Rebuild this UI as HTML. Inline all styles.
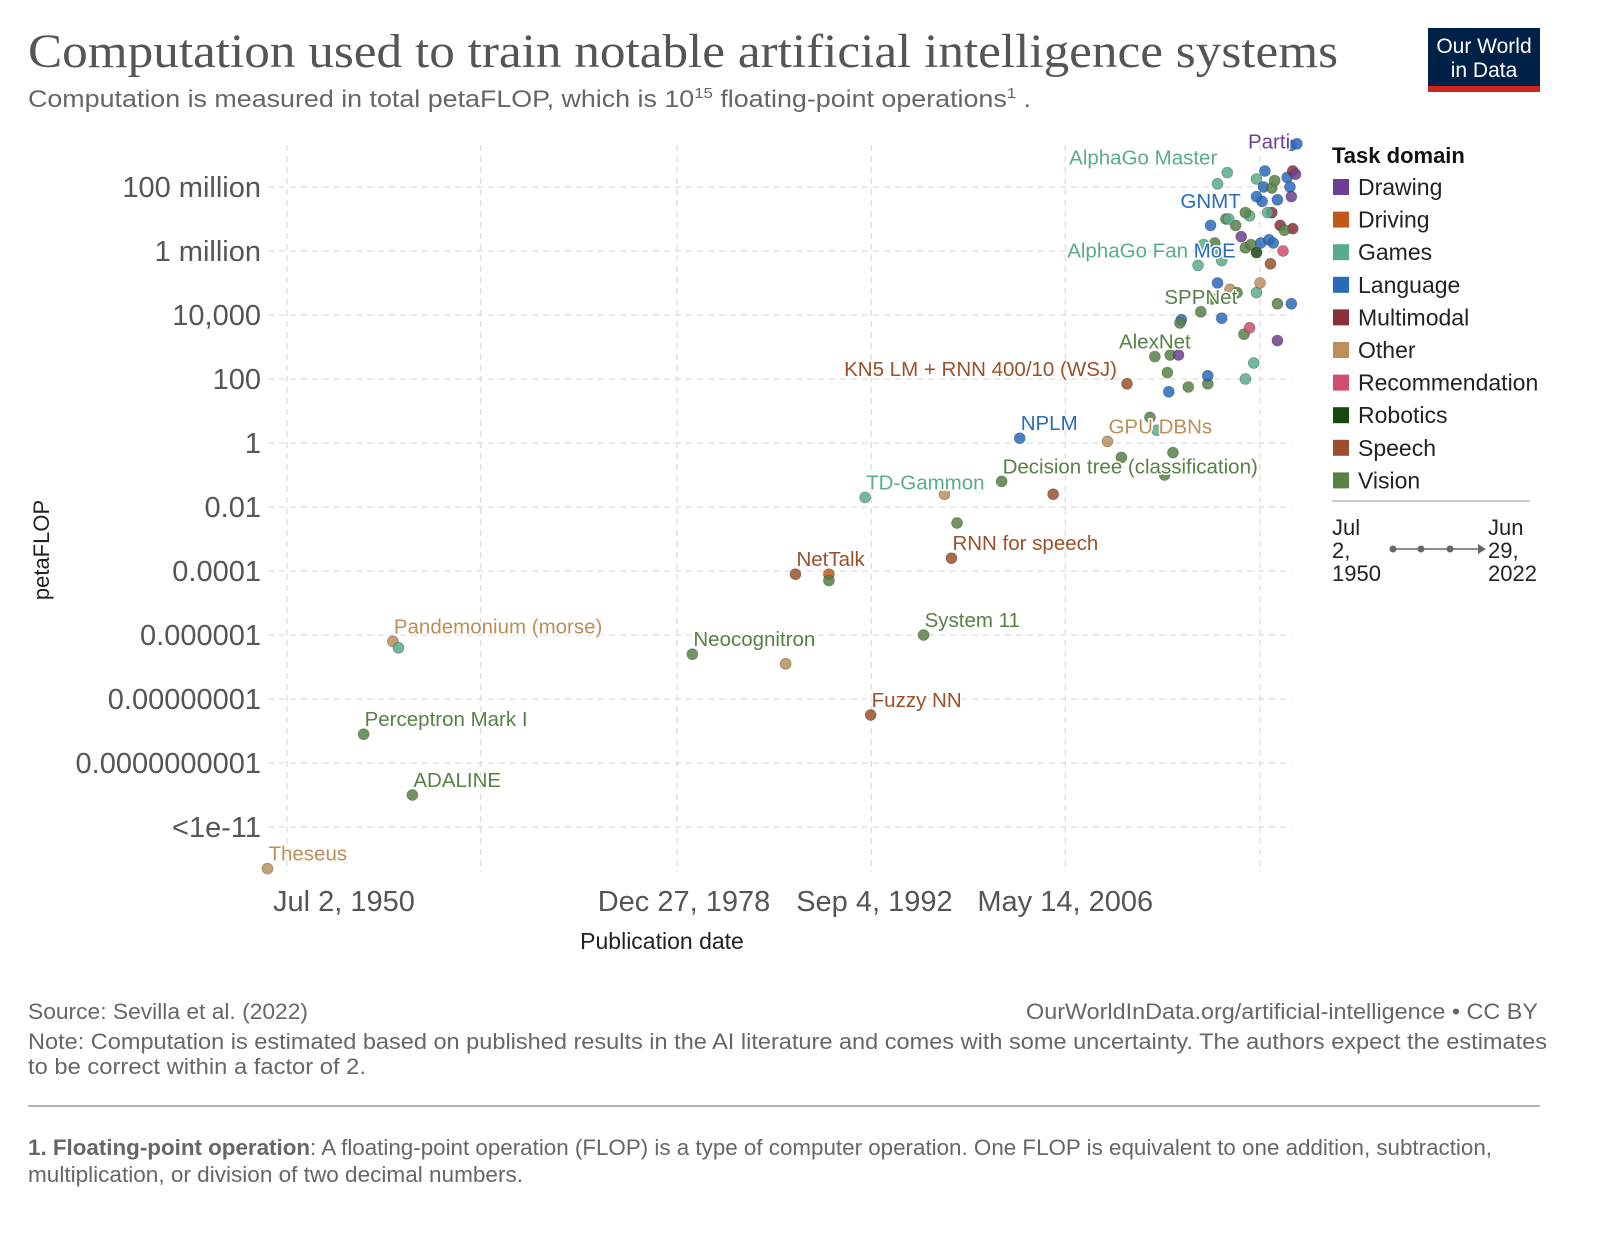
<!DOCTYPE html>
<html><head><meta charset="utf-8">
<style>
html,body{margin:0;padding:0;background:#fff;}
body{width:1600px;height:1229px;overflow:hidden;font-family:"Liberation Sans",sans-serif;}
svg text{font-family:"Liberation Sans",sans-serif;}
.lbl{font-size:20.5px;paint-order:stroke;stroke:#fff;stroke-width:3px;stroke-linejoin:round;}
</style></head>
<body>
<svg id="chart" width="1600" height="1229" viewBox="0 0 1600 1229" xmlns="http://www.w3.org/2000/svg">
<text x="28" y="67" textLength="1310" lengthAdjust="spacingAndGlyphs" style="font-family:'Liberation Serif',serif;font-size:48px;fill:#555">Computation used to train notable artificial intelligence systems</text>
<text x="28" y="107" textLength="1003" lengthAdjust="spacingAndGlyphs" style="font-size:24px;fill:#666">Computation is measured in total petaFLOP, which is 10<tspan dy="-9" font-size="15">15</tspan><tspan dy="9"> floating-point operations</tspan><tspan dy="-9" font-size="15">1</tspan><tspan dy="9"> .</tspan></text>
<g>
<rect x="1428" y="28" width="112" height="58" fill="#002147"/>
<rect x="1428" y="86" width="112" height="6" fill="#ce261e"/>
<text x="1484" y="53" text-anchor="middle" style="font-size:21px;fill:#fff">Our World</text>
<text x="1484" y="77" text-anchor="middle" style="font-size:21px;fill:#fff">in Data</text>
</g>
<g id="grid"></g>
<g id="yaxis"></g>
<g id="xaxis"></g>
<text transform="translate(49,550) rotate(-90)" text-anchor="middle" style="font-size:22px;fill:#222">petaFLOP</text>
<text x="662" y="949" text-anchor="middle" style="font-size:23px;fill:#222">Publication date</text>
<g id="points"></g>
<g id="labels"></g>
<g id="legend">
<text x="1332" y="163" style="font-size:22px;font-weight:bold;fill:#111">Task domain</text>
</g>
<g>
<line x1="1332" y1="501" x2="1530" y2="501" stroke="#ccc" stroke-width="2"/>
<text x="1332" y="535" style="font-size:22px;fill:#222">Jul</text>
<text x="1332" y="558" style="font-size:22px;fill:#222">2,</text>
<text x="1332" y="581" style="font-size:22px;fill:#222">1950</text>
<text x="1488" y="535" style="font-size:22px;fill:#222">Jun</text>
<text x="1488" y="558" style="font-size:22px;fill:#222">29,</text>
<text x="1488" y="581" style="font-size:22px;fill:#222">2022</text>
<line x1="1393" y1="549" x2="1478" y2="549" stroke="#666" stroke-width="1.5"/>
<polygon points="1478,544 1486,549 1478,554" fill="#666"/>
<circle cx="1393" cy="549" r="3.5" fill="#666"/><circle cx="1421" cy="549" r="3.5" fill="#666"/><circle cx="1450" cy="549" r="3.5" fill="#666"/>
</g>
<text x="28" y="1019" textLength="280" lengthAdjust="spacingAndGlyphs" style="font-size:22px;fill:#666">Source: Sevilla et al. (2022)</text>
<text x="1026" y="1019" textLength="512" lengthAdjust="spacingAndGlyphs" style="font-size:22px;fill:#666">OurWorldInData.org/artificial-intelligence • CC BY</text>
<text x="28" y="1049" textLength="1519" lengthAdjust="spacingAndGlyphs" style="font-size:22px;fill:#666">Note: Computation is estimated based on published results in the AI literature and comes with some uncertainty. The authors expect the estimates</text>
<text x="28" y="1074" textLength="338" lengthAdjust="spacingAndGlyphs" style="font-size:22px;fill:#666">to be correct within a factor of 2.</text>
<line x1="28" y1="1106" x2="1540" y2="1106" stroke="#999" stroke-width="1.5"/>
<text x="28" y="1155" textLength="1464" lengthAdjust="spacingAndGlyphs" style="font-size:22px;fill:#666"><tspan font-weight="bold">1. Floating-point operation</tspan>: A floating-point operation (FLOP) is a type of computer operation. One FLOP is equivalent to one addition, subtraction,</text>
<text x="28" y="1182" textLength="495" lengthAdjust="spacingAndGlyphs" style="font-size:22px;fill:#666">multiplication, or division of two decimal numbers.</text>
</svg>
<script>
const domainNames = ["Drawing","Driving","Games","Language","Multimodal","Other","Recommendation","Robotics","Speech","Vision"];
const domainColors = ["#6d3e91","#c05917","#58ac8c","#286bbb","#883039","#bc8e5a","#cf4d6f","#18470f","#9a5129","#578145"];
const yTickExps = [8,6,4,2,0,-2,-4,-6,-8,-10,-12];
const yTickLabels = ["100 million","1 million","10,000","100","1","0.01","0.0001","0.000001","0.00000001","0.0000000001","<1e-11"];
const xTickYears = [1950.5,1979.0,1992.67,2006.37];
const xTickLabels = ["Jul 2, 1950","Dec 27, 1978","Sep 4, 1992","May 14, 2006"];
const xGridYears = [1950.5,1964.4,1978.5,1992.45,2006.37,2020.35];
// publication year (decimal)
const years = [1949.1,1958.1,1958.5,1956.0,1959.5,1979.6,1986.3,1987.0,1989.4,1989.4,1992.4,1992.0,1997.7,1998.6,1998.2,1996.2,2001.8,2005.5,2003.1,2010.8,2009.4,2010.4,2012.45,2012.95,2014.1,2013.5,2012.8,2013.9,2014.5,2013.7,2013.8,2015.2,2016.6,2016.6,2019.3,2019.9,2019.2,2019.6,2021.6,2014.7,2014.6,2017.6,2016.1,2016.9,2017.3,2018.2,2018.7,2020.1,2020.35,2021.6,2022.6,2021.1,2022.0,2015.9,2017.0,2016.3,2017.1,2017.6,2019.0,2019.3,2019.7,2020.1,2020.4,2021.0,2021.3,2021.8,2022.7,2018.6,2016.8,2017.9,2017.3,2018.0,2020.1,2020.6,2021.2,2021.4,2022.3,2020.7,2022.5,2022.6,2022.7,2022.9,2022.6,2023.0,2020.5,2021.2,2020.1,2019.6,2022.1,2020.9,2021.6,2019.3,2018.1];
// log10 of training compute in petaFLOP
const computeLog10 = [-13.3,-6.2,-6.4,-9.1,-11.0,-6.6,-6.9,-4.1,-4.1,-4.3,-8.5,-1.7,-1.6,-2.5,-3.6,-6.0,-1.2,-1.6,0.15,1.85,0.05,-0.45,0.8,0.4,-0.3,-1.0,2.7,2.75,2.75,2.2,1.6,1.75,1.85,2.1,2.0,2.5,3.4,3.6,3.2,3.85,3.75,3.9,4.1,4.5,5.0,4.8,4.7,4.7,5.0,4.35,4.35,5.6,6.0,5.55,6.0,6.2,6.25,5.7,6.45,6.1,6.2,5.95,6.25,6.35,6.25,6.8,6.7,6.8,6.8,7.0,8.1,8.45,8.25,8.0,7.97,8.2,8.3,8.5,8.0,7.7,8.5,8.4,9.3,9.35,7.55,7.2,7.7,7.1,6.65,7.2,7.6,7.2,7.0];
// index into domainNames
const domains = [5,5,2,9,9,9,5,8,1,9,8,2,5,9,8,9,9,8,3,8,5,9,9,2,9,9,9,9,0,9,3,9,9,3,2,2,9,6,0,3,9,3,9,9,3,5,9,2,5,9,3,8,6,2,2,2,9,2,0,9,9,7,3,3,3,4,4,9,3,9,2,2,2,3,9,9,3,3,3,0,4,0,3,3,3,4,3,2,9,2,3,9,2];
const labelNames = ["Theseus","Pandemonium (morse)","Perceptron Mark I","ADALINE","Neocognitron","NetTalk","Fuzzy NN","TD-Gammon","RNN for speech","System 11","Decision tree (classification)","NPLM","KN5 LM + RNN 400/10 (WSJ)","GPU DBNs","AlexNet","SPPNet","MoE","AlphaGo Fan","GNMT","AlphaGo Master","Parti"];
const labelYears = [1949.1,1958.1,1956.0,1959.5,1979.6,1987.0,1992.4,1992.0,1998.2,1996.2,2001.8,2003.1,2010.8,2009.4,2012.8,2016.1,2017.1,2015.9,2016.8,2018.0,2021.0];
const labelLog10 = [-13.3,-6.2,-9.1,-11.0,-6.6,-4.1,-8.5,-1.7,-3.6,-6.0,-1.2,0.15,1.85,0.05,2.7,4.1,5.55,5.55,7.1,8.45,8.95];
const labelDomains = [5,5,9,9,9,8,8,2,8,9,9,3,8,5,9,9,3,2,3,2,0];
const labelAnchors = ["start","start","start","start","start","start","start","start","start","start","start","start","end","start","middle","middle","middle","end","middle","end","middle"];

const NS="http://www.w3.org/2000/svg";
const X0=287, PXY=13.93, Y0=443, PXD=32, PL=268, PR=1292, PT=145, PB=872;
function xs(yr){return X0+(yr-1950.5)*PXY;}
function ys(l){return Y0-l*PXD;}
function mk(tag,attrs,parent){const e=document.createElementNS(NS,tag);for(const k in attrs)e.setAttribute(k,attrs[k]);parent.appendChild(e);return e;}

const grid=document.getElementById('grid');
yTickExps.forEach((ex,i)=>{
  const g=mk('line',{x1:PL,x2:PR,y1:ys(ex),y2:ys(ex),stroke:'#ddd','stroke-width':1.3,'stroke-dasharray':'6,5'},grid);
  
  
  const t=mk('text',{x:261,y:ys(ex)+10,'text-anchor':'end',style:'font-size:29px;fill:#555'},document.getElementById('yaxis'));
  
  
  t.textContent=yTickLabels[i];
});
xGridYears.forEach(yr=>{
  const g=mk('line',{x1:xs(yr),x2:xs(yr),y1:PT,y2:PB,stroke:'#ddd','stroke-width':1.3,'stroke-dasharray':'6,5'},grid);
  
  
});
xTickYears.forEach((yr,i)=>{
  const t=mk('text',{x:xs(yr)+(i===0?57:0),y:911,'text-anchor':'middle',style:'font-size:29px;fill:#555'},document.getElementById('xaxis'));
  
  
  t.textContent=xTickLabels[i];
});
const pts=document.getElementById('points');
years.forEach((yr,i)=>{
  const c=domainColors[domains[i]];
  const p=mk('circle',{cx:xs(yr),cy:ys(computeLog10[i]),r:5.5,fill:c,'fill-opacity':0.85,stroke:'#333','stroke-opacity':0.35,'stroke-width':0.8},pts);
  
  
});
const lg=document.getElementById('labels');
labelNames.forEach((n,i)=>{
  const a=labelAnchors[i];
  const dx=a==='start'?1:(a==='end'?-10:0);
  const t=mk('text',{x:xs(labelYears[i])+dx,y:ys(labelLog10[i])-8,'text-anchor':a,'class':'lbl',fill:domainColors[labelDomains[i]]},lg);
  
  
  t.textContent=n;
});
const leg=document.getElementById('legend');
domainNames.forEach((n,i)=>{
  const y=187+i*32.6;
  const g=mk('g',{},leg);
  
  
  mk('rect',{x:1333,y:y-8,width:16,height:16,fill:domainColors[i]},g);
  const t=mk('text',{x:1358,y:y+8,style:'font-size:23px;fill:#222'},g);
  t.textContent=n;
});
</script>
</body></html>
